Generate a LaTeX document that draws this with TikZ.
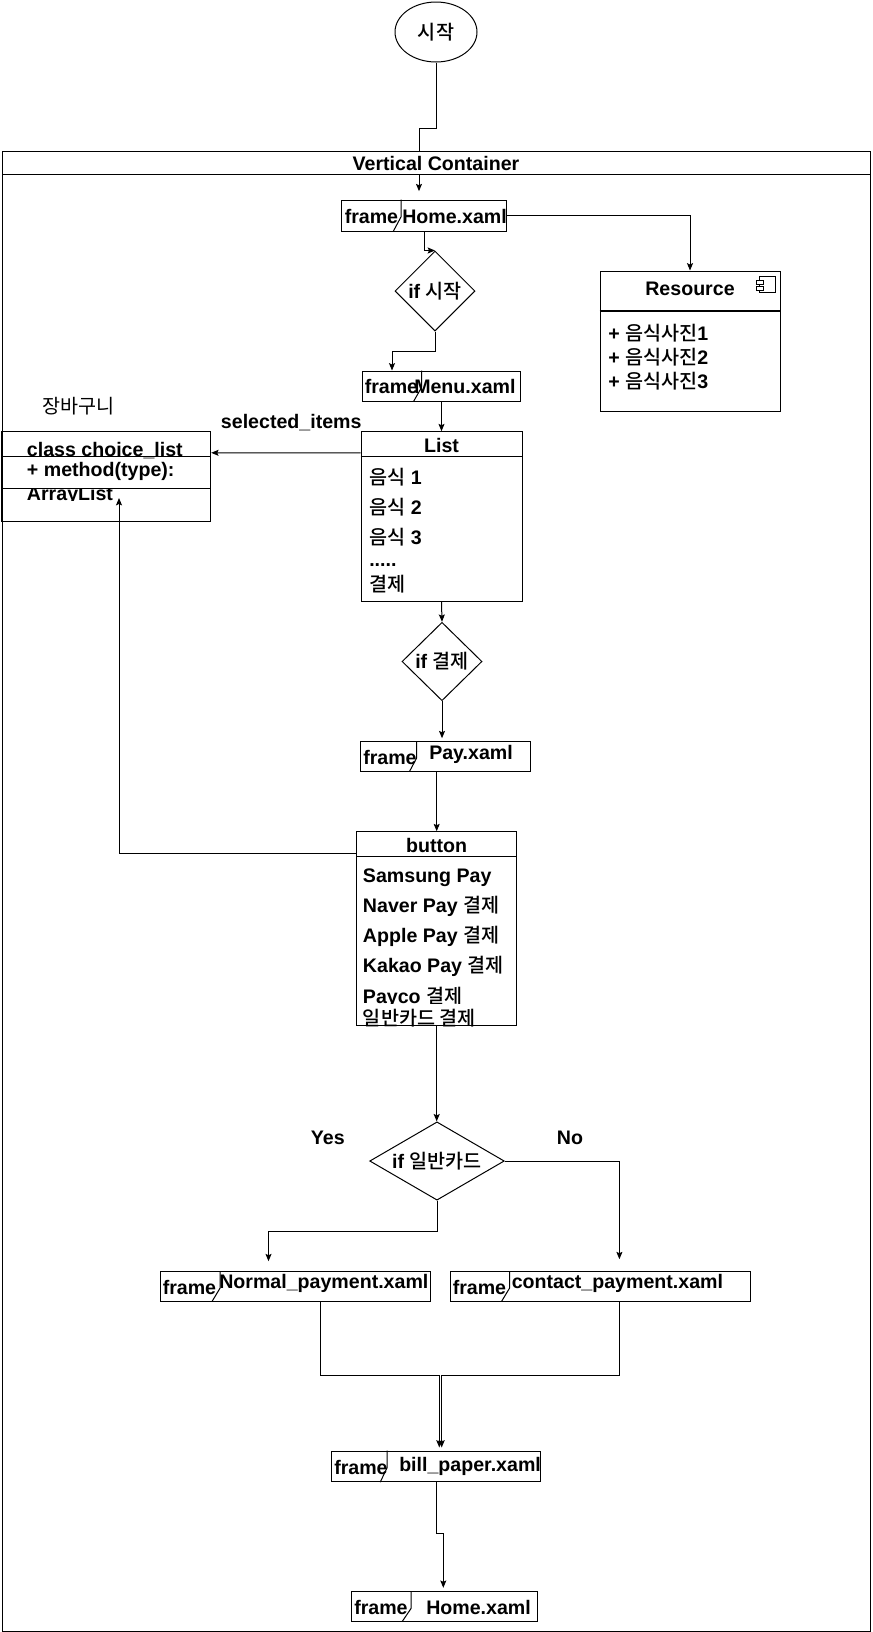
\documentclass[tikz,border=0pt]{standalone}
\usepackage{fontspec}
\setmainfont{Liberation Sans}
\newfontfamily\krfont{Noto Sans CJK KR}[BoldFont={Noto Sans CJK KR Medium}]
\newcommand\krtxt[1]{{\krfont #1}}
\usetikzlibrary{shapes.geometric, arrows.meta}
\newdimen\upx
\upx=0.75pt

\begin{document}
\begin{tikzpicture}[x=0.75pt, y=-0.75pt,
	txt/.style={font=\bfseries\fontsize{14.7}{17}\selectfont, inner sep=0pt},
	box/.style={draw, line width=0.75pt, inner sep=0pt},
	frm/.style={box, minimum height=29.3\upx},
	cond/.style={box, diamond, txt},
	ln/.style={line width=0.75pt},
	arr/.style={line width=0.75pt, -{Stealth[length=5.5pt, width=4.5pt, inset=1pt]}}]
	\useasboundingbox (0,0) rectangle (872,1632);

	% start and container
	\node[box, ellipse, txt, minimum width=82\upx, minimum height=60\upx] (start) at (436,32) {\krtxt{시작}};
	\node[box, minimum width=868\upx, minimum height=1479.3\upx] (vc) at (436,891.35) {};

	% frames
	\node[frm, minimum width=165\upx, minimum height=31\upx] (home1) at (424.2,215.5) {};
	\draw[ln] ([xshift=60\upx]home1.north west) -- ++(0,17) -- ([xshift=52\upx]home1.south west);
	\node[txt, anchor=base west] (home1f) at (344.5,223) {frame};
	\node[txt, anchor=base west] (home1t) at (402,223) {Home.xaml};

	\node[frm, minimum width=158\upx, minimum height=30\upx] (menu) at (441,386) {};
	\draw[ln] ([xshift=60\upx]menu.north west) -- ++(0,17) -- ([xshift=52\upx]menu.south west);
	\node[txt, anchor=base west] (menuf) at (364.5,393) {frame};
	\node[txt, anchor=base west] (menut) at (414,393) {Menu.xaml};

	\node[frm, minimum width=170\upx] (pay) at (445,756.35) {};
	\draw[ln] ([xshift=57\upx]pay.north west) -- ++(0,17) -- ([xshift=50\upx]pay.south west);
	\node[txt, anchor=base west] (payf) at (363,764) {frame};
	\node[txt, anchor=base west] (payt) at (429,759) {Pay.xaml};

	\node[frm, minimum width=270\upx] (normal) at (295.5,1286.35) {};
	\draw[ln] ([xshift=60\upx]normal.north west) -- ++(0,17) -- ([xshift=52\upx]normal.south west);
	\node[txt, anchor=base west] (normalf) at (162.5,1294) {frame};
	\node[txt, anchor=base west] (normalt) at (219,1288) {Normal\_payment.xaml};

	\node[frm, minimum width=300\upx] (contact) at (600,1286.35) {};
	\draw[ln] ([xshift=60\upx]contact.north west) -- ++(0,17) -- ([xshift=52\upx]contact.south west);
	\node[txt, anchor=base west] (contactf) at (452.5,1294) {frame};
	\node[txt, anchor=base west] (contactt) at (511.5,1288) {contact\_payment.xaml};

	\node[frm, minimum width=209\upx, minimum height=30.7\upx] (bill) at (436.2,1466.35) {};
	\draw[ln] ([xshift=56\upx]bill.north west) -- ++(0,17) -- ([xshift=49\upx]bill.south west);
	\node[txt, anchor=base west] (billf) at (334,1474) {frame};
	\node[txt, anchor=base west] (billt) at (399,1471.7) {bill\_paper.xaml};

	\node[frm, minimum width=185.6\upx] (home2) at (444.5,1606.35) {};
	\draw[ln] ([xshift=60\upx]home2.north west) -- ++(0,17) -- ([xshift=51\upx]home2.south west);
	\node[txt, anchor=base west] (home2f) at (354,1614.3) {frame};
	\node[txt, anchor=base west] (home2t) at (426,1614.3) {Home.xaml};

	% resource component
	\node[box, minimum width=180\upx, minimum height=140\upx] (res) at (690,341) {};
	\draw[line width=1.5pt] ([yshift=-40.7\upx]res.north west) -- ([yshift=-40.7\upx]res.north east);
	\node[txt] (restitle) at (690,289) {Resource};
	\draw[ln] (759,276) rectangle (775,292);
	\draw[ln, fill=white] (756,280) rectangle (763,284);
	\draw[ln, fill=white] (756,286) rectangle (763,290);
	\node[txt, anchor=base west] (res1) at (608,340) {+ \krtxt{음식사진}1};
	\node[txt, anchor=base west] (res2) at (608,364) {+ \krtxt{음식사진}2};
	\node[txt, anchor=base west] (res3) at (608,388) {+ \krtxt{음식사진}3};

	% decisions
	\node[cond, minimum width=80\upx, minimum height=80\upx] (if1) at (435,291) {if \krtxt{시작}};
	\node[cond, minimum width=80\upx, minimum height=78.4\upx] (if2) at (442,661.5) {if \krtxt{결제}};
	\node[cond, shape aspect=1.72, minimum width=134.6\upx, minimum height=78.3\upx] (if3) at (437,1161) {if \krtxt{일반카드}};

	% list of foods
	\node[box, minimum width=161\upx, minimum height=170\upx] (list) at (441.5,516.7) {};
	\draw[ln] ([yshift=-25.6\upx]list.north west) -- ([yshift=-25.6\upx]list.north east);
	\node[txt] (listtitle) at (441.5,445) {List};
	\node[txt, anchor=base west] (food1) at (369,484) {\krtxt{음식} 1};
	\node[txt, anchor=base west] (food2) at (369,514) {\krtxt{음식} 2};
	\node[txt, anchor=base west] (food3) at (369,544) {\krtxt{음식} 3};
	\node[txt, anchor=base west] (dots) at (369,566.5) {.....};
	\node[txt, anchor=base west] (checkout) at (369,591.5) {\krtxt{결제}};

	% basket class
	\node[txt, anchor=base west] (cart) at (42,413) {\mdseries\krtxt{장바구니}};
	\node[box, minimum width=209.2\upx, minimum height=89.3\upx] (choice) at (106.1,476.35) {};
	\draw[ln] ([yshift=-25.6\upx]choice.north west) -- ([yshift=-25.6\upx]choice.north east);
	\draw[ln] ([yshift=-57.3\upx]choice.north west) -- ([yshift=-57.3\upx]choice.north east);
	\node[txt, anchor=base west] (cname) at (26.7,456) {class choice\_list};
	\node[txt, anchor=base west] (cmethod) at (26.7,476.7) {+ method(type):};
	\begin{scope}
		\clip (20,489) rectangle (200,500.5);
		\node[txt, anchor=base west] (ctype) at (26.7,500) {ArrayList};
	\end{scope}

	% payment buttons
	\node[box, minimum width=160\upx, minimum height=193.3\upx] (button) at (436.7,928.35) {};
	\draw[ln] ([yshift=-25.6\upx]button.north west) -- ([yshift=-25.6\upx]button.north east);
	\node[txt] (buttontitle) at (436.7,845) {button};
	\node[txt, anchor=base west] (pay1) at (362.7,882.7) {Samsung Pay};
	\node[txt, anchor=base west] (pay2) at (362.7,912.7) {Naver Pay \krtxt{결제}};
	\node[txt, anchor=base west] (pay3) at (362.7,942.7) {Apple Pay \krtxt{결제}};
	\node[txt, anchor=base west] (pay4) at (362.7,972.7) {Kakao Pay \krtxt{결제}};
	\begin{scope}
		\clip (358,980) rectangle (515,1003.5);
		\node[txt, anchor=base west] (pay5) at (362.7,1003) {Payco \krtxt{결제}};
	\end{scope}
	\node[txt, anchor=base west] (pay6) at (362.7,1025) {\krtxt{일반카드 결제}};

	% connectors
	\coordinate (j1) at (419,128);
	\draw[arr, shorten >=8.3\upx] (start.south) |- (j1) -- (j1 |- home1.north);
	\draw[arr] (home1.east) -| (res.north);
	\draw[arr] (home1.south) |- (if1.north);
	\coordinate (j2) at (392,351);
	\draw[arr] (if1.south) |- (j2) -- (j2 |- menu.north);
	\draw[arr] (list.north |- menu.south) -- (list.north);
	\draw[arr] ([yshift=-21.6\upx]list.north west) -- ([yshift=-21.6\upx]choice.north east);
	\node[txt, anchor=base west] (sel) at (220.7,428.5) {selected\_items};
	\draw[arr] (list.south) -- (if2.north);
	\draw[arr, shorten >=3\upx] (if2.south) -- (if2.south |- pay.north);
	\draw[arr] (button.north |- pay.south) -- (button.north);
	\coordinate (cartin) at (119,498);
	\draw[arr] ([yshift=-22.6\upx]button.north west) -| (cartin);
	\draw[arr] (button.south) -- (button.south |- if3.north);
	\node[txt] (yes) at (327.8,1137.5) {Yes};
	\node[txt] (no) at (570,1137.5) {No};
	\coordinate (j3) at (268.5,1231);
	\draw[arr, shorten >=10\upx] (if3.south) |- (j3) -- (j3 |- normal.north);
	\draw[arr, shorten >=12\upx] (if3.east) -| ([xshift=19.4\upx]contact.north);
	\coordinate (m1) at (439.3,1375.7);
	\coordinate (m2) at (441.7,1375.7);
	\draw[arr, shorten >=3\upx] ([xshift=25.1\upx]normal.south) |- (m1) -- (m1 |- bill.north);
	\draw[arr, shorten >=3\upx] ([xshift=19\upx]contact.south) |- (m2) -- (m2 |- bill.north);
	\coordinate (j5) at (443.3,1533.3);
	\draw[arr, shorten >=3.4\upx] (bill.south) |- (j5) -- (j5 |- home2.north);

	% container header on top
	\node[box, txt, fill=white, minimum width=868\upx, minimum height=22.6\upx, anchor=north] (vchead) at (vc.north) {Vertical Container};
\end{tikzpicture}
\end{document}
